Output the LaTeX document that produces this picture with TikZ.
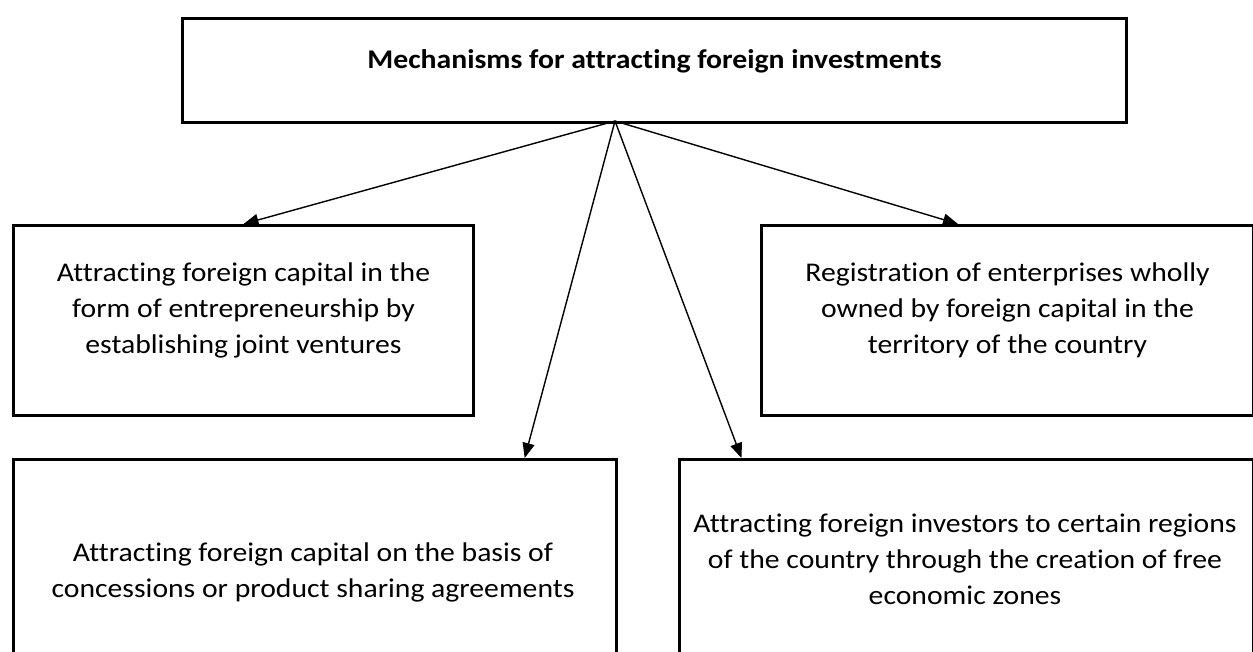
\documentclass[tikz,border=0pt]{standalone}
\usepackage{fontspec}
\setmainfont{Carlito}[Ligatures=NoCommon,FakeStretch=1.1]
\usetikzlibrary{arrows.meta,positioning,calc}
\tikzset{
  framebox/.style={draw,line width=1.5pt,rectangle,inner sep=0pt,anchor=north west},
  boxtext/.style={align=center,font=\fontsize{13.5}{18}\selectfont},
  titletext/.style={align=center,font=\bfseries\fontsize{13.5}{18}\selectfont},
  link/.style={-{Triangle[length=7.5pt,width=6pt]},line width=0.7pt}
}

\begin{document}
\begin{tikzpicture}[x=0.5pt,y=-0.5pt]
        \useasboundingbox (0,0) rectangle (1253,652);
        \clip (0,0) rectangle (1253,652);
        \node[framebox,minimum width=472pt,minimum height=52pt] (top) at (181,17) {};
        \node[framebox,minimum width=230pt,minimum height=95pt] (jv) at (12,224) {};
        \node[framebox,minimum width=246pt,minimum height=95pt] (reg) at (760,224) {};
        \node[framebox,minimum width=301.5pt,minimum height=130pt] (psa) at (12,458) {};
        \node[framebox,minimum width=287pt,minimum height=130pt] (fez) at (678,458) {};
        \node[titletext] (toptitle) at ($(top.center)+(0,-9)$) {Mechanisms for attracting foreign investments};
        \node[boxtext] (jvtext) at ($(jv.center)+(0,-10)$) {Attracting foreign capital in the\\form of entrepreneurship by\\establishing joint ventures};
        \node[boxtext] (regtext) at ($(reg.center)+(0,-10)$) {Registration of enterprises wholly\\owned by foreign capital in the\\territory of the country};
        \node[boxtext] (psatext) at (313,572) {Attracting foreign capital on the basis of\\concessions or product sharing agreements};
        \node[boxtext] (feztext) at (965,559) {Attracting foreign investors to certain regions\\of the country through the creation of free\\economic zones};
        \coordinate (apex) at (615,121);
        \draw[link] (apex) -- (jv.north);
        \draw[link] (apex) -- ($(reg.north west)!0.4!(reg.north east)$);
        \draw[link] (apex) -- ($(psa.north west)!0.846!(psa.north east)$);
        \draw[link] (apex) -- ($(fez.north west)!0.11!(fez.north east)$);
      \end{tikzpicture}
\end{document}
